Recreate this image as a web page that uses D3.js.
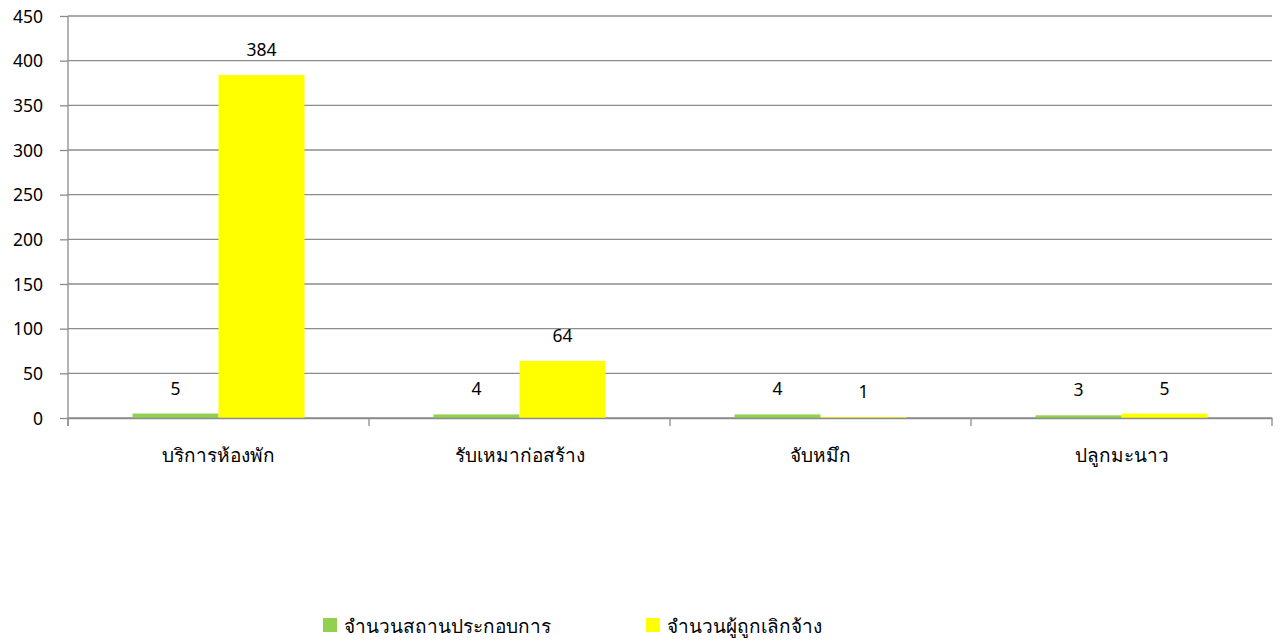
<!DOCTYPE html>
<html><head><meta charset="utf-8">
<script src="https://cdn.jsdelivr.net/npm/d3@7/dist/d3.min.js"></script>
<style>
body{margin:0;background:#fff;}
text{font-family:Tahoma,"Noto Sans","DejaVu Sans",sans-serif;fill:#000;}
</style></head>
<body><svg id="c" width="1282" height="641"></svg>
<script>
const categories = ["บริการห้องพัก","รับเหมาก่อสร้าง","จับหมึก","ปลูกมะนาว"];
const seriesNames = ["จำนวนสถานประกอบการ","จำนวนผู้ถูกเลิกจ้าง"];
const establishments = [5,4,4,3];
const laidOff = [384,64,1,5];
const yTicks = [0,50,100,150,200,250,300,350,400,450];
const colors = ["#92D050","#FFFF00"];

(function(){
const svg = d3.select("#c");
const mL = 68, mR = 1272, mT = 16, mB = 418;
const x = d3.scaleBand().domain(categories).range([mL,mR]).paddingInner(0).paddingOuter(0);
const xs = d3.scaleBand().domain([0,1]).range([0,x.bandwidth()]).paddingInner(0).paddingOuter(0.75);
const y = d3.scaleLinear().domain([0,450]).range([mB,mT]);

svg.append("g").selectAll("line").data(yTicks).join("line")
  .attr("x1",mL).attr("x2",mR).attr("y1",d=>y(d)).attr("y2",d=>y(d))
  .attr("stroke","#8c8c8c").attr("stroke-width",1.3);

const ya = svg.append("g").attr("transform",`translate(${mL},0)`)
  .call(d3.axisLeft(y).tickValues(yTicks).tickSize(8).tickPadding(17));
ya.selectAll("text").style("font-size","17.5px").attr("dy","0.36em");
ya.selectAll("line,path").attr("stroke","#8c8c8c").attr("stroke-width",1.3);
ya.select(".domain").attr("d",`M0,${mT}V${mB+8}`);

const data = [establishments, laidOff];
data.forEach((vals,si)=>{
  const g = svg.append("g");
  g.selectAll("rect").data(vals).join("rect")
    .attr("x",(d,i)=>x(categories[i])+xs(si))
    .attr("width",xs.bandwidth())
    .attr("y",d=>y(d))
    .attr("height",d=>y(0)-y(d))
    .attr("fill",colors[si]);
  g.selectAll("text").data(vals).join("text")
    .attr("x",(d,i)=>x(categories[i])+xs(si)+xs.bandwidth()/2)
    .attr("y",d=>y(d)-19)
    .attr("text-anchor","middle")
    .style("font-size","17.5px")
    .text(d=>d);
});

const xa = svg.append("g").attr("transform",`translate(0,${mB})`)
  .call(d3.axisBottom(x).tickSize(0).tickPadding(0));
xa.selectAll("text").style("font-size","19px").attr("dy",null).attr("y",44);
xa.select(".domain").attr("stroke","#8c8c8c").attr("stroke-width",1.3);
const bounds = [...categories.map(c=>x(c)), mR];
xa.selectAll("line.sep").data(bounds).join("line").attr("class","sep")
  .attr("x1",d=>d).attr("x2",d=>d).attr("y1",0).attr("y2",8)
  .attr("stroke","#8c8c8c").attr("stroke-width",1.3);

const legX = [323, 646];
const lg = svg.append("g");
seriesNames.forEach((n,i)=>{
  lg.append("rect").attr("x",legX[i]).attr("y",618).attr("width",14).attr("height",14).attr("fill",colors[i]);
  lg.append("text").attr("x",legX[i]+21).attr("y",633).style("font-size","19px").text(n);
});
})();
</script></body></html>
